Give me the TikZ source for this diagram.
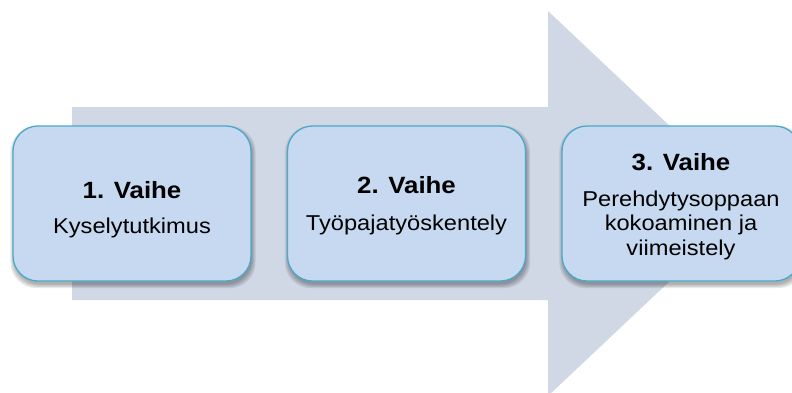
\documentclass[tikz,border=0pt]{standalone}
\usepackage{fontspec}
\setmainfont{Liberation Sans}[FakeStretch=1.1]
\definecolor{arrowc}{RGB}{208,215,229}
\definecolor{boxfill}{RGB}{198,217,240}
\definecolor{boxline}{RGB}{75,168,198}
\tikzset{
  stage/.style={draw=boxline, line width=1.3pt, fill=boxfill, rounded corners=25pt,
    minimum width=238pt, minimum height=155pt, inner sep=0pt},
  shadelayer/.style={fill=black, opacity=0.09, rounded corners=26pt},
  title/.style={anchor=base, font=\fontsize{23.5}{28}\selectfont\bfseries, inner sep=0pt},
  body/.style={anchor=base, font=\fontsize{21.5}{23.5}\selectfont, inner sep=0pt},
}
\begin{document}
\begin{tikzpicture}[x=1pt,y=-1pt]
\useasboundingbox (0,0) rectangle (792,392);
\clip (0,0) rectangle (792,392);
% big arrow
\fill[arrowc] (72,107) -- (548,107) -- (548,11) -- (752,203.5) -- (548,396) -- (548,300) -- (72,300) -- cycle;
% soft shadows
\foreach \cx in {132,406.5,681}{
  \foreach \g in {0,1.2,2.4,3.6}{
    \fill[shadelayer] (\cx-119+1-\g,126+3.5-\g) rectangle (\cx+119+1+\g,281+3.5+\g);
  }
}
% boxes
\node[stage] (b1) at (132,203.5) {};
\node[stage] (b2) at (406.5,203.5) {};
\node[stage] (b3) at (681,203.5) {};
% texts
\node[title] (t1) at (132,198) {1. Vaihe};
\node[body] (s1) at (132,233.3) {Kyselytutkimus};
\node[title] (t2) at (406.5,193.3) {2. Vaihe};
\node[body] (s2) at (406.5,230.7) {Työpajatyöskentely};
\node[title] (t3) at (681,170) {3. Vaihe};
\node[body] (s3a) at (681,206.7) {Perehdytysoppaan};
\node[body] (s3b) at (681,230.7) {kokoaminen ja};
\node[body] (s3c) at (681,255) {viimeistely};
\end{tikzpicture}
\end{document}
